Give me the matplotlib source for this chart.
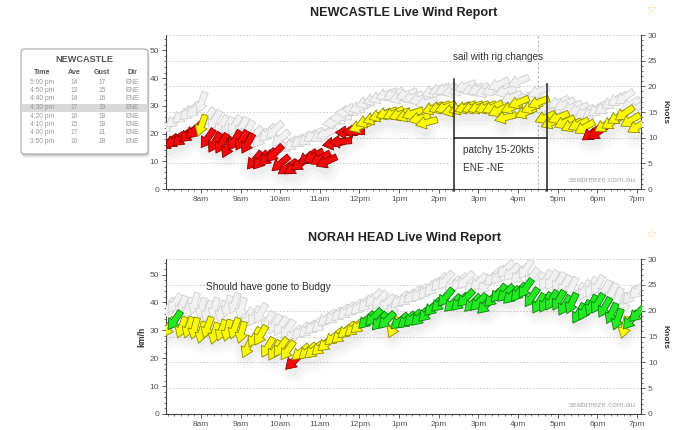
import numpy as np
import matplotlib
matplotlib.use("Agg")
import matplotlib.pyplot as plt
from matplotlib.markers import MarkerStyle
from matplotlib.path import Path
from matplotlib.transforms import Affine2D
from matplotlib.patches import FancyBboxPatch, Rectangle
from matplotlib.ticker import MultipleLocator

plt.rcParams['font.family'] = ['Liberation Sans', 'DejaVu Sans']

KMH_PER_KT = 1.852

# 10 minute readings, 7:10am .. 7:00pm
times = [
    "7:10", "7:20", "7:30", "7:40", "7:50",
    "8:00", "8:10", "8:20", "8:30", "8:40", "8:50",
    "9:00", "9:10", "9:20", "9:30", "9:40", "9:50",
    "10:00", "10:10", "10:20", "10:30", "10:40", "10:50",
    "11:00", "11:10", "11:20", "11:30", "11:40", "11:50",
    "12:00", "12:10", "12:20", "12:30", "12:40", "12:50",
    "13:00", "13:10", "13:20", "13:30", "13:40", "13:50",
    "14:00", "14:10", "14:20", "14:30", "14:40", "14:50",
    "15:00", "15:10", "15:20", "15:30", "15:40", "15:50",
    "16:00", "16:10", "16:20", "16:30", "16:40", "16:50",
    "17:00", "17:10", "17:20", "17:30", "17:40", "17:50",
    "18:00", "18:10", "18:20", "18:30", "18:40", "18:50",
    "19:00",
]

# Newcastle (knots, direction wind comes from in degrees)
newc_ave = [9.2, 9.6, 10.0, 10.8, 11.5,
            12.5, 9.9, 9.2, 9.0, 8.2, 9.5,
            9.5, 9.0, 5.6, 5.6, 6.2, 7.0,
            5.0, 4.3, 4.3, 5.0, 6.2, 6.5,
            6.0, 5.4, 9.0, 9.4, 11.1, 11.3,
            12.3, 13.2, 13.8, 14.4, 14.8, 14.8,
            14.6, 14.4, 14.8, 13.8, 13.0, 15.8,
            16.0, 16.0, 15.4, 15.8, 16.0, 16.0,
            16.0, 16.0, 16.0, 15.4, 14.0, 16,
            17, 15, 16, 17, 14, 13,
            14, 13.0, 12.5, 12.6, 12.0, 11.0,
            11.1, 12.5, 13.0, 14.0, 14.8, 13.4,
            12.2]
newc_gust = [12.5, 13.5, 14.5, 15.0, 15.5,
             17.0, 14.0, 13.5, 12.5, 12.0, 12.5,
             12.0, 11.5, 10.5, 10.0, 11.0, 11.5,
             10.0, 8.5, 9.0, 9.5, 10.0, 10.5,
             10.5, 11.0, 13.0, 14.0, 15.0, 15.5,
             16.0, 17.0, 17.5, 18.0, 18.5, 18.5,
             18.0, 18.5, 18.0, 17.5, 17.0, 19.0,
             19.5, 19.5, 19.0, 19.5, 20.0, 19.5,
             19.5, 19.0, 19.5, 20.5, 19.0, 18,
             21, 18, 18, 19, 16, 15,
             17, 16.5, 16.0, 15.5, 15.0, 15.0,
             15.5, 16.0, 17.0, 17.5, 18.0, 16.5,
             16.0]
newc_dir = [55, 55, 50, 50, 45,
            20, 35, 30, 30, 25, 30,
            30, 30, 40, 40, 45, 45,
            50, 55, 55, 55, 55, 60,
            60, 65, 80, 85, 90, 90,
            70, 70, 70, 70, 70, 65,
            70, 70, 70, 75, 75, 70,
            70, 70, 75, 70, 70, 70,
            70, 70, 65, 65, 75, 67.5,
            67.5, 67.5, 67.5, 67.5, 67.5, 67.5,
            67.5, 65, 65, 65, 60, 55,
            55, 60, 60, 60, 55, 60,
            60]

# Norah Head
norah_ave = [16.8, 18.2, 16.8, 16.8, 16.6,
             15.9, 16.8, 15.7, 16.3, 16.3, 16.6,
             15.9, 13.0, 14.9, 15.3, 13.0, 12.4,
             13.0, 12.4, 10.2, 12.0, 12.2, 12.4,
             13.0, 13.7, 14.9, 15.3, 16.3, 16.6,
             17.2, 18.2, 18.8, 18.0, 18.1, 16.8,
             18.0, 18.2, 18.6, 18.8, 19.5, 20.7,
             21.5, 22.6, 21.5, 21.7, 22.4, 21.5,
             21.7, 21.1, 22.4, 23.4, 23.4, 23.0,
             23.6, 24.4, 22.6, 21.5, 21.7, 22.0,
             22.0, 21.1, 21.5, 19.5, 20.1, 21.1,
             21.5, 20.7, 19.5, 18.4, 16.8, 18.2,
             19.5]
norah_gust = [20.5, 21.5, 21.0, 20.5, 21.5,
              20.5, 20.0, 20.5, 20.0, 21.0, 21.5,
              20.5, 18.5, 19.0, 19.5, 18.0, 17.5,
              17.0, 16.5, 15.5, 16.0, 16.5, 17.0,
              17.5, 18.5, 19.0, 19.5, 20.0, 20.5,
              21.0, 21.5, 22.5, 22.0, 21.5, 21.0,
              22.0, 22.5, 23.0, 23.5, 24.0, 24.5,
              25.5, 26.0, 25.0, 25.5, 26.0, 25.0,
              25.5, 25.0, 26.5, 27.0, 28.0, 27.5,
              27.0, 28.0, 26.5, 25.5, 26.0, 26.0,
              25.5, 25.0, 24.5, 23.5, 24.0, 24.5,
              25.0, 24.0, 23.5, 22.5, 21.5, 23.0,
              24.0]
norah_dir = [30, 35, 20, 20, 15,
             15, 20, 15, 20, 15, 20,
             15, 25, 30, 30, 30, 30,
             35, 35, 45, 50, 50, 50,
             50, 50, 50, 50, 50, 50,
             50, 45, 45, 40, 45, 25,
             50, 50, 50, 45, 45, 45,
             45, 40, 45, 45, 45, 45,
             45, 45, 45, 40, 45, 45,
             40, 35, 35, 30, 30, 30,
             30, 30, 25, 30, 30, 25,
             30, 30, 25, 20, 15, 40,
             45]

hour_ticks = [8, 9, 10, 11, 12, 13, 14, 15, 16, 17, 18, 19]
hour_labels = ["8am", "9am", "10am", "11am", "12pm", "1pm",
               "2pm", "3pm", "4pm", "5pm", "6pm", "7pm"]
kmh_ticks = [0, 10, 20, 30, 40, 50]
knot_ticks = [0, 5, 10, 15, 20, 25, 30]

table_times = ["17:00", "16:50", "16:40", "16:30", "16:20", "16:10", "16:00", "15:50"]
hover_time = "16:30"


def to_hours(t):
    h, m = t.split(":")
    return int(h) + int(m) / 60


hours = np.array([to_hours(t) for t in times])


def speed_colours(kt):
    if kt < 12:
        return ("#f00a0a", "#8c0000")
    if kt < 18:
        return ("#fafa00", "#8f8a00")
    return ("#22ea22", "#0b7d0b")


COMPASS = ["N", "NNE", "NE", "ENE", "E", "ESE", "SE", "SSE",
           "S", "SSW", "SW", "WSW", "W", "WNW", "NW", "NNW"]


def compass(d):
    return COMPASS[int(((d + 11.25) % 360) // 22.5)]


# block arrow pointing along +x
ARROW = Path([(-1, -0.28), (0.1, -0.28), (0.1, -0.58), (1, 0),
              (0.1, 0.58), (0.1, 0.28), (-1, 0.28), (-1, -0.28)],
             [Path.MOVETO] + [Path.LINETO] * 6 + [Path.CLOSEPOLY])


def draw_arrows(ax, x, speeds, dirs, colours, z):
    for xi, s, d, (fc, ec) in zip(x, speeds, dirs, colours):
        m = MarkerStyle(ARROW, transform=Affine2D().rotate_deg(-90 - d))
        ax.plot([xi], [s], marker=m, ms=16, mfc=fc, mec=ec, mew=0.6,
                ls="none", zorder=z)


def wind_panel(ax, ave, gust, dirs):
    ave = np.array(ave)
    ax.set_xlim(7.12, 19.1)
    ax.set_ylim(0, 30)
    # soft shadow under the arrows
    for lw, a in [(18, 0.035), (13, 0.045), (7, 0.06)]:
        ax.plot(hours, ave - 1.8, color="#777777", lw=lw, alpha=a,
                solid_capstyle="round", zorder=1)
    draw_arrows(ax, hours, gust, dirs,
                [("#f1f1f1", "#d0d0d0")] * len(gust), 2)
    draw_arrows(ax, hours, ave, dirs, [speed_colours(v) for v in ave], 3)

    ax.set_xticks(hour_ticks)
    ax.set_xticklabels(hour_labels)
    ax.xaxis.set_minor_locator(MultipleLocator(1 / 6))
    ax.yaxis.tick_right()
    ax.set_yticks(knot_ticks)
    ax.yaxis.set_minor_locator(MultipleLocator(1))
    ax.grid(axis="y", which="major", color="#c8c8c8", ls=(0, (2, 2)), lw=0.6)
    ax.set_axisbelow(True)
    ax.spines["top"].set_visible(False)
    ax.spines["left"].set_visible(False)
    for s in ["right", "bottom"]:
        ax.spines[s].set_color("#444444")
        ax.spines[s].set_linewidth(0.8)
    ax.tick_params(which="major", length=3, width=0.6, color="#444444",
                   labelsize=6, labelcolor="#555555", pad=2)
    ax.tick_params(which="minor", length=1.5, width=0.5, color="#444444")

    sec = ax.secondary_yaxis("left", functions=(lambda k: k * KMH_PER_KT,
                                                lambda v: v / KMH_PER_KT))
    sec.set_yticks(kmh_ticks)
    sec.yaxis.set_minor_locator(MultipleLocator(2))
    sec.spines["left"].set_color("#444444")
    sec.spines["left"].set_linewidth(0.8)
    sec.tick_params(which="major", length=3, width=0.6, color="#444444",
                    labelsize=6, labelcolor="#555555", pad=2)
    sec.tick_params(which="minor", length=1.5, width=0.5, color="#444444")

    ax.text(0.99, 0.03, "seabreeze.com.au", transform=ax.transAxes,
            ha="right", va="bottom", fontsize=5.9, color="#a8a8a8")


fig = plt.figure(figsize=(7, 4.3), dpi=100)


def fpos(x, y):
    return x / 700, 1 - y / 430


ax1 = fig.add_axes([166 / 700, 1 - 189 / 430, 475 / 700, 154 / 430])
ax2 = fig.add_axes([166 / 700, 1 - 414 / 430, 475 / 700, 155 / 430])

wind_panel(ax1, newc_ave, newc_gust, newc_dir)
wind_panel(ax2, norah_ave, norah_gust, norah_dir)

# cursor line in the top chart
ax1.axvline(to_hours(hover_time), color="#b8b8b8", ls=(0, (2, 2)), lw=0.8, zorder=0.5)

# hand drawn notes on the Newcastle chart
note_left, note_right = 14.39, 16.74
ax1.plot([note_left, note_left], [-0.4, 21.4], color="#222222", lw=1.1,
         clip_on=False, zorder=4)
ax1.plot([note_right, note_right], [-0.4, 20.5], color="#222222", lw=1.1,
         clip_on=False, zorder=4)
ax1.plot([note_left, note_right], [9.9, 9.9], color="#222222", lw=1.1, zorder=4)
ax1.text(15.5, 25.7, "sail with rig changes", ha="center", va="center",
         fontsize=7.2, color="#333333")
ax1.text(note_left + 0.23, 7.6, "patchy 15-20kts", ha="left", va="center",
         fontsize=7.2, color="#333333")
ax1.text(note_left + 0.23, 4.1, "ENE -NE", ha="left", va="center",
         fontsize=7.2, color="#333333")
ax2.text(8.12, 24.6, "Should have gone to Budgy", ha="left", va="center",
         fontsize=7.3, color="#333333")

# titles, labels, stars
fig.text(*fpos(404, 13), "NEWCASTLE Live Wind Report", ha="center",
         va="center", fontsize=9.1, fontweight="bold", color="#222222")
fig.text(*fpos(404, 238), "NORAH HEAD Live Wind Report", ha="center",
         va="center", fontsize=9.1, fontweight="bold", color="#222222")
fig.text(*fpos(665, 112), "Knots", rotation=270, ha="center", va="center",
         fontsize=6, fontweight="bold", color="#333333")
fig.text(*fpos(665, 337), "Knots", rotation=270, ha="center", va="center",
         fontsize=6, fontweight="bold", color="#333333")
fig.text(*fpos(142, 337), "km/h", rotation=90, ha="center", va="center",
         fontsize=6.2, fontweight="bold", color="#333333")
for sy in (9, 234):
    fig.text(*fpos(651, sy), "\u2606", ha="center", va="center", fontsize=9,
             color="#e6d89a", family="DejaVu Sans")

# latest readings table
bx0, by0 = fpos(21, 154)
bw, bh = 127 / 700, 105 / 430
for off, a in [(4, 0.05), (3, 0.06), (2, 0.08)]:
    fig.patches.append(FancyBboxPatch((bx0 + off * 0.4 / 700, by0 - off / 430), bw, bh,
                                      boxstyle="round,pad=0,rounding_size=0.006",
                                      transform=fig.transFigure, fc="#000000",
                                      ec="none", alpha=a, zorder=5))
fig.patches.append(FancyBboxPatch((bx0, by0), bw, bh,
                                  boxstyle="round,pad=0,rounding_size=0.006",
                                  transform=fig.transFigure, fc="white",
                                  ec="#a8a8a8", lw=0.8, zorder=6))

col_x = [41.7, 74, 102, 132.7]
fig.text(*fpos(84.5, 59), "NEWCASTLE", ha="center", va="center", fontsize=6.6,
         fontweight="bold", color="#555555", zorder=7)
for cx, h in zip(col_x, ["Time", "Ave", "Gust", "Dir"]):
    fig.text(*fpos(cx, 73), h, ha="center", va="center", fontsize=5.1,
             fontweight="bold", color="#555555", zorder=7)
for r, t in enumerate(table_times):
    i = times.index(t)
    ry = 82 + r * 8.5
    if t == hover_time:
        fig.patches.append(Rectangle(fpos(21.7, ry + 4.2), 126.3 / 700, 8 / 430,
                                     transform=fig.transFigure, fc="#d9d9d9",
                                     ec="none", zorder=6.5))
    hh, mm = t.split(":")
    label = f"{int(hh) - 12 if int(hh) > 12 else int(hh)}:{mm} pm"
    cells = [label, f"{newc_ave[i]:.0f}", f"{newc_gust[i]:.0f}", compass(newc_dir[i])]
    for cx, c in zip(col_x, cells):
        fig.text(*fpos(cx, ry), c, ha="center", va="center", fontsize=4.8,
                 color="#999999", zorder=7)

fig.savefig("out.png", dpi=100)
